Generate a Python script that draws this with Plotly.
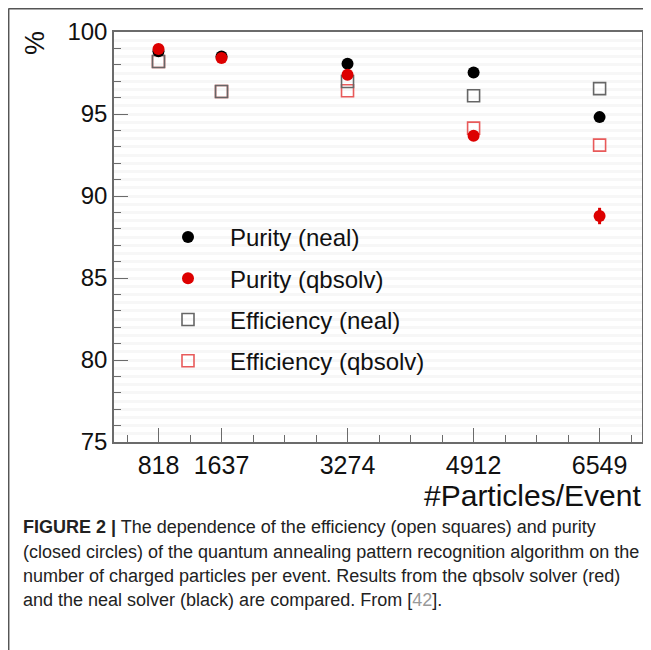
import plotly.graph_objects as go

particles = [818, 1637, 3274, 4912, 6549]
tick_labels = ["818", "1637", "3274", "4912", "6549"]
purity_neal = [98.82, 98.51, 98.06, 97.53, 94.81]
purity_qbsolv = [98.96, 98.41, 97.39, 93.67, 88.78]
purity_qbsolv_err = [0.0, 0.0, 0.0, 0.0, 0.5]
eff_neal = [98.20, 96.37, 96.98, 96.11, 96.55]
eff_qbsolv = [98.20, 96.37, 96.42, 94.14, 93.10]

FONT = "Liberation Sans, Arial, Helvetica, sans-serif"

# page has an 8px body margin; figure is sized so that the page matches 651x650
W, H = 643, 642
L, T, PW, PH = 114, 32, 528, 410   # plot area in page pixels


def px(x):
    return (x - L) / PW


def py(y):
    return (T + PH - y) / PH


fig = go.Figure()
fig.add_trace(go.Scatter(x=[None], y=[None], yaxis="y2", showlegend=False, hoverinfo="skip"))
fig.add_trace(go.Scatter(x=particles, y=eff_qbsolv, mode="markers", name="Efficiency (qbsolv)",
                         legendrank=4, legendgroup="d",
                         marker=dict(symbol="square-open", size=12, color="#e85a5a",
                                     line=dict(width=1.6, color="#e85a5a"))))
fig.add_trace(go.Scatter(x=particles, y=eff_neal, mode="markers", name="Efficiency (neal)",
                         legendrank=3, legendgroup="c",
                         marker=dict(symbol="square-open", size=12, color="#666666",
                                     line=dict(width=1.6, color="#666666"))))
fig.add_trace(go.Scatter(x=particles, y=purity_neal, mode="markers", name="Purity (neal)",
                         legendrank=1, legendgroup="a",
                         marker=dict(symbol="circle", size=12, color="#000000")))
fig.add_trace(go.Scatter(x=particles, y=purity_qbsolv, mode="markers", name="Purity (qbsolv)",
                         legendrank=2, legendgroup="b",
                         error_y=dict(type="data", array=purity_qbsolv_err, width=0,
                                      thickness=3, color="#dd0000"),
                         marker=dict(symbol="circle", size=12, color="#dd0000")))

axis_line = "#6b6b6b"
fig.update_xaxes(range=[240, 7100], tickvals=particles, ticktext=tick_labels,
                 ticks="inside", ticklen=14, tickcolor=axis_line, tickwidth=1.2,
                 showline=True, linecolor=axis_line, linewidth=1.5, mirror=True,
                 showgrid=False, zeroline=False,
                 tickfont=dict(family=FONT, size=25, color="#111111"),
                 minor=dict(tick0=0, dtick=409.25, ticks="inside", ticklen=7,
                            tickcolor=axis_line, tickwidth=1.2, showgrid=False))
fig.update_yaxes(range=[75, 100], tickvals=[75, 80, 85, 90, 95, 100],
                 ticks="inside", ticklen=14, tickcolor=axis_line, tickwidth=1.2,
                 showline=True, linecolor=axis_line, linewidth=1.5, mirror=True,
                 showgrid=False, zeroline=False,
                 tickfont=dict(family=FONT, size=24, color="#111111"),
                 minor=dict(tick0=75, dtick=1, ticks="inside", ticklen=7,
                            tickcolor=axis_line, tickwidth=1.2, showgrid=False))

fig.update_layout(
    width=W, height=H,
    margin=dict(l=L - 8, r=W - (L - 8) - PW, t=T - 8, b=H - (T - 8) - PH, autoexpand=False),
    paper_bgcolor="white", plot_bgcolor="white",
    showlegend=True,
    legend=dict(x=px(146), y=py(215), xanchor="left", yanchor="top",
                bgcolor="rgba(0,0,0,0)", itemwidth=74, tracegroupgap=7,
                font=dict(family=FONT, size=24, color="#111111")),
    yaxis2=dict(overlaying="y", range=[75, 100], dtick=0.5, showticklabels=False,
                showgrid=True, gridcolor="#f7f7f7", gridwidth=3, zeroline=False,
                showline=False, ticks=""),
)

annotations = [
    dict(text="%", x=px(35), y=py(43), showarrow=False, textangle=-90, xanchor="center",
         font=dict(family=FONT, size=27, color="#111111")),
    dict(text="#Particles/Event", x=px(643), y=py(495), showarrow=False, xanchor="right",
         font=dict(family=FONT, size=30, color="#111111")),
]
caption = [
    "<b>FIGURE 2 |</b> The dependence of the efficiency (open squares) and purity",
    "(closed circles) of the quantum annealing pattern recognition algorithm on the",
    "number of charged particles per event. Results from the qbsolv solver (red)",
    "and the neal solver (black) are compared. From [<span style='color:#999999'>42</span>].",
]
caption_y = [527, 552, 576, 600]
for t, yy in zip(caption, caption_y):
    annotations.append(dict(text=t, x=px(21), y=py(yy), showarrow=False, xanchor="left",
                            font=dict(family=FONT, size=18, color="#222222")))
for a in annotations:
    a["xref"] = "paper"
    a["yref"] = "paper"
    a.setdefault("yanchor", "middle")
fig.update_layout(annotations=annotations)

# outer frame (top and left edges), at the page's top-left
fig.add_shape(type="line", xref="paper", yref="paper", x0=px(8.5), x1=px(660),
              y0=py(8.7), y1=py(8.7), line=dict(color="#555555", width=1.5))
fig.add_shape(type="line", xref="paper", yref="paper", x0=px(8.7), x1=px(8.7),
              y0=py(8.5), y1=py(660), line=dict(color="#555555", width=1.5))

fig.write_html("out.html")
